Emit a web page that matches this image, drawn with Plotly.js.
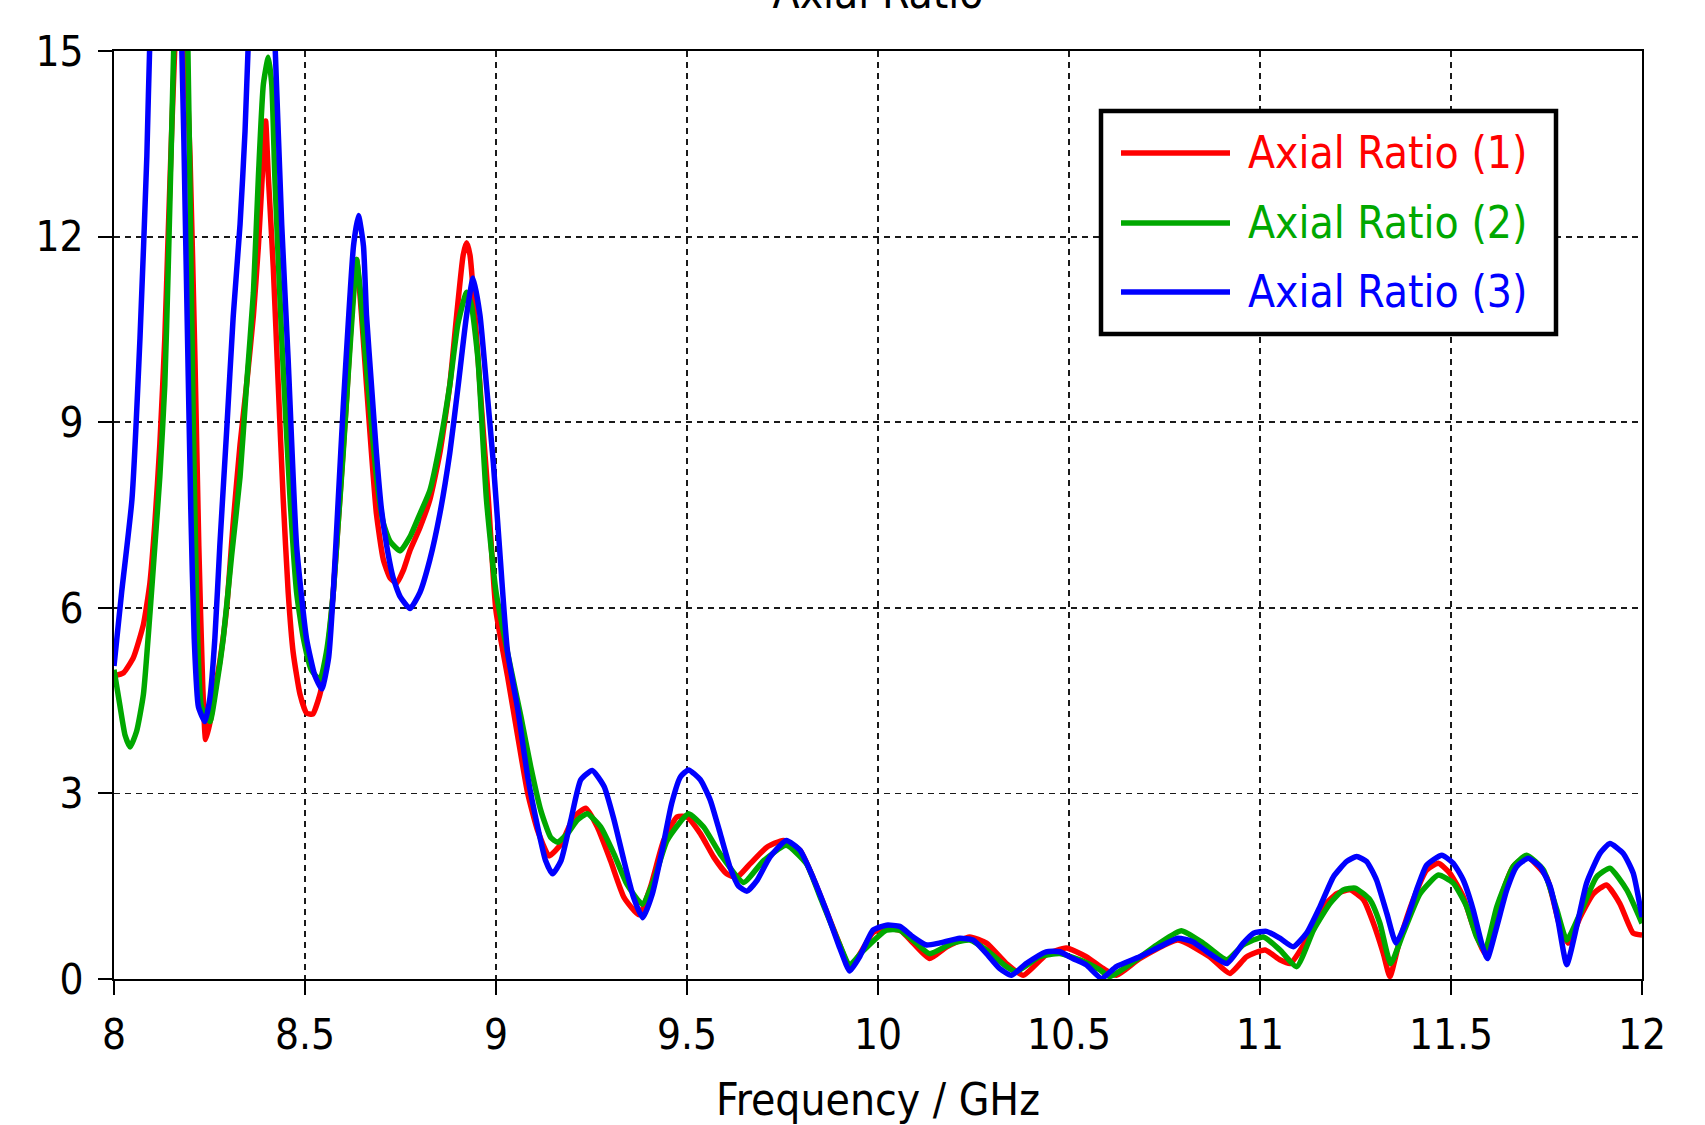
<!DOCTYPE html>
<html>
<head>
<meta charset="utf-8">
<script src="https://cdn.plot.ly/plotly-3.0.1.min.js"></script>
<style>html,body{margin:0;padding:0;background:#fff;}#chart{width:1705px;height:1125px;}</style>
</head>
<body>
<div id="chart"></div>
<script>
// ---- data ----
const seriesNames = ['Axial Ratio (1)', 'Axial Ratio (2)', 'Axial Ratio (3)'];
const seriesColors = ['#ff0000', '#00a800', '#0000ff'];
const xTickVals = [8, 8.5, 9, 9.5, 10, 10.5, 11, 11.5, 12];
const xTickText = ['8', '8.5', '9', '9.5', '10', '10.5', '11', '11.5', '12'];
const yTickVals = [0, 3, 6, 9, 12, 15];
const yTickText = ['0', '3', '6', '9', '12', '15'];
const chartTitle = 'Axial Ratio';
const xTitle = 'Frequency / GHz';

const freq1 = [8.0,8.025,8.051,8.077,8.094,8.107,8.12,8.133,8.142,8.151,8.16,8.172,8.186,8.199,8.212,8.222,8.232,8.24,8.253,8.265,8.277,8.295,8.312,8.33,8.347,8.365,8.378,8.391,8.397,8.404,8.417,8.43,8.443,8.456,8.469,8.487,8.504,8.52,8.539,8.556,8.574,8.591,8.609,8.622,8.635,8.648,8.661,8.674,8.687,8.705,8.723,8.74,8.757,8.775,8.801,8.827,8.853,8.879,8.897,8.914,8.923,8.932,8.945,8.962,8.98,9.0,9.03,9.057,9.083,9.109,9.139,9.17,9.204,9.235,9.265,9.3,9.335,9.374,9.404,9.439,9.474,9.5,9.535,9.57,9.604,9.63,9.665,9.709,9.752,9.796,9.83,9.865,9.9,9.926,9.952,9.987,10.022,10.06,10.092,10.135,10.18,10.24,10.284,10.336,10.38,10.44,10.493,10.545,10.589,10.624,10.685,10.785,10.868,10.921,10.965,11.013,11.052,11.079,11.122,11.166,11.201,11.236,11.271,11.297,11.323,11.34,11.366,11.401,11.436,11.467,11.497,11.532,11.558,11.589,11.62,11.663,11.698,11.75,11.785,11.807,11.838,11.873,11.907,11.942,11.977,12.0];
const ar1 = [4.9,4.95,5.2,5.73,6.4,7.37,8.64,10.36,12.07,13.7,15.2,17,15.3,13.3,10.0,7.0,4.8,3.87,4.2,4.7,5.13,6.0,7.37,8.64,9.6,10.73,11.85,13.3,13.87,12.97,11.5,9.6,7.75,6.25,5.28,4.6,4.3,4.28,4.6,5.13,6.25,7.75,9.39,10.73,11.63,10.73,9.6,8.5,7.52,6.78,6.48,6.4,6.6,6.93,7.3,7.75,8.5,9.6,10.73,11.7,11.9,11.7,10.73,9.24,7.75,5.95,4.9,3.92,3.0,2.4,1.99,2.18,2.62,2.76,2.46,1.91,1.32,1.04,1.48,2.24,2.62,2.62,2.35,1.97,1.70,1.64,1.86,2.13,2.24,2.08,1.64,1.1,0.55,0.18,0.4,0.75,0.82,0.78,0.58,0.33,0.52,0.68,0.58,0.25,0.06,0.39,0.5,0.36,0.17,0.06,0.33,0.63,0.36,0.09,0.36,0.47,0.31,0.25,0.63,1.17,1.38,1.44,1.28,0.9,0.41,0.04,0.63,1.28,1.76,1.87,1.71,1.33,0.85,0.41,1.12,1.82,1.98,1.65,0.85,0.58,1.0,1.38,1.52,1.22,0.74,0.71];

const freq2 = [8.0,8.016,8.029,8.042,8.059,8.077,8.094,8.107,8.12,8.133,8.142,8.151,8.157,8.175,8.193,8.2,8.207,8.216,8.229,8.251,8.269,8.286,8.308,8.33,8.347,8.365,8.378,8.391,8.404,8.413,8.421,8.439,8.461,8.478,8.496,8.517,8.539,8.556,8.574,8.587,8.6,8.613,8.627,8.635,8.644,8.657,8.67,8.687,8.705,8.723,8.749,8.775,8.801,8.827,8.853,8.879,8.9,8.923,8.936,8.953,8.975,9.0,9.03,9.065,9.091,9.117,9.143,9.161,9.187,9.213,9.239,9.274,9.309,9.343,9.383,9.413,9.448,9.504,9.543,9.587,9.648,9.7,9.76,9.813,9.85,9.9,9.926,9.96,10.022,10.057,10.1,10.135,10.195,10.24,10.284,10.336,10.362,10.423,10.476,10.528,10.58,10.607,10.676,10.737,10.794,10.851,10.913,10.956,11.009,11.052,11.096,11.14,11.183,11.218,11.249,11.288,11.314,11.342,11.375,11.419,11.467,11.506,11.541,11.567,11.589,11.62,11.663,11.698,11.742,11.777,11.803,11.838,11.881,11.916,11.96,12.0];
const ar2 = [5.0,4.4,3.94,3.75,4.0,4.6,5.9,7.0,8.12,9.6,11.5,13.7,15.2,18,15.2,12.2,9.24,6.25,4.4,4.16,4.76,5.5,6.85,8.12,9.6,11.1,12.97,14.46,14.9,14.46,12.97,10.36,7.75,6.25,5.5,4.99,4.84,5.28,6.25,7.37,8.5,9.76,11.03,11.63,11.18,10.15,9.24,8.12,7.37,7.07,6.92,7.15,7.52,7.9,8.64,9.6,10.58,11.1,10.88,10.0,7.75,6.26,5.28,4.25,3.43,2.73,2.29,2.21,2.35,2.57,2.67,2.46,2.02,1.53,1.21,1.59,2.24,2.67,2.46,2.02,1.56,1.91,2.16,1.86,1.3,0.55,0.23,0.45,0.79,0.79,0.58,0.41,0.58,0.63,0.47,0.2,0.12,0.36,0.41,0.31,0.15,0.04,0.31,0.58,0.78,0.58,0.31,0.55,0.68,0.47,0.2,0.79,1.22,1.44,1.47,1.28,0.9,0.25,0.74,1.38,1.68,1.55,1.17,0.68,0.47,1.17,1.82,2.0,1.76,1.12,0.63,1.06,1.65,1.79,1.44,0.9];

const freq3 = [8.0,8.02,8.047,8.068,8.086,8.094,8.135,8.177,8.188,8.201,8.21,8.221,8.238,8.251,8.264,8.277,8.295,8.312,8.33,8.343,8.352,8.39,8.421,8.439,8.456,8.478,8.504,8.526,8.544,8.562,8.574,8.587,8.6,8.613,8.627,8.64,8.653,8.661,8.674,8.687,8.7,8.714,8.731,8.749,8.775,8.801,8.827,8.853,8.879,8.9,8.923,8.94,8.958,8.975,8.993,9.01,9.03,9.057,9.083,9.109,9.13,9.148,9.17,9.196,9.222,9.252,9.283,9.309,9.335,9.36,9.384,9.409,9.435,9.46,9.483,9.504,9.535,9.561,9.587,9.613,9.635,9.657,9.683,9.717,9.76,9.796,9.83,9.865,9.9,9.926,9.952,9.987,10.022,10.057,10.092,10.127,10.16,10.214,10.249,10.284,10.318,10.349,10.388,10.44,10.476,10.51,10.545,10.585,10.624,10.685,10.737,10.785,10.825,10.868,10.913,10.956,10.983,11.017,11.052,11.087,11.122,11.157,11.192,11.227,11.253,11.279,11.305,11.332,11.356,11.384,11.41,11.436,11.476,11.506,11.532,11.558,11.58,11.595,11.62,11.646,11.672,11.702,11.733,11.76,11.78,11.803,11.829,11.855,11.89,11.916,11.951,11.977,12.0];
const ar3 = [5.06,6.25,7.75,10.36,13.3,15.2,21,15.2,11.85,7.6,5.5,4.4,4.16,4.54,5.5,7.0,8.87,10.7,12.2,13.7,15.2,20,15.2,12.2,10.0,7.0,5.5,4.9,4.69,5.2,6.25,7.75,9.24,10.58,11.85,12.34,11.85,10.73,9.6,8.5,7.6,7.0,6.48,6.18,5.99,6.25,6.78,7.52,8.5,9.54,10.73,11.33,10.73,9.6,8.34,6.9,5.3,4.36,3.27,2.46,1.91,1.70,1.91,2.57,3.22,3.37,3.11,2.57,1.91,1.32,0.99,1.37,2.08,2.84,3.27,3.38,3.22,2.89,2.35,1.80,1.5,1.42,1.59,1.97,2.24,2.08,1.64,1.1,0.5,0.13,0.36,0.79,0.87,0.85,0.68,0.55,0.58,0.66,0.63,0.41,0.17,0.06,0.25,0.44,0.44,0.33,0.23,0.01,0.2,0.36,0.52,0.66,0.6,0.41,0.25,0.58,0.74,0.77,0.66,0.52,0.74,1.17,1.65,1.9,1.98,1.9,1.6,1.06,0.58,0.95,1.44,1.84,2.0,1.87,1.6,1.12,0.58,0.33,0.85,1.44,1.82,1.95,1.82,1.49,0.95,0.23,0.85,1.55,2.03,2.19,2.03,1.71,1.0];

const xs = [freq1, freq2, freq3];
const ys = [ar1, ar2, ar3];

// ---- chart ----
const FONT = '"DejaVu Sans Condensed", "Liberation Sans", Tahoma, sans-serif';
const traces = seriesNames.map((name, i) => ({
  type: 'scatter', mode: 'lines', name: name,
  x: xs[i], y: ys[i],
  line: {color: seriesColors[i], width: 5.5, shape: 'spline', smoothing: 0.5},
  showlegend: false
}));

// custom legend box (positions in paper coordinates)
const W = 1705, H = 1125, ML = 114, MR = 63, MT = 51, MB = 146;
const PW = W - ML - MR, PH = H - MT - MB;
const px = v => (v - ML) / PW;
const py = v => (H - MB - v) / PH;
const legRowY = [153, 223, 292];
const shapes = [{
  type: 'rect', xref: 'paper', yref: 'paper',
  x0: px(1101), x1: px(1556), y0: py(334), y1: py(111),
  line: {color: '#000', width: 4.5}, fillcolor: '#ffffff', layer: 'above'
}];
const annotations = [];
seriesNames.forEach((name, i) => {
  shapes.push({type: 'line', xref: 'paper', yref: 'paper',
    x0: px(1121), x1: px(1230), y0: py(legRowY[i]), y1: py(legRowY[i]),
    line: {color: seriesColors[i], width: 5.5}, layer: 'above'});
  annotations.push({xref: 'paper', yref: 'paper', x: px(1246), y: py(legRowY[i] - 1),
    xanchor: 'left', yanchor: 'middle', showarrow: false, text: name,
    font: {family: FONT, size: 44, color: seriesColors[i]}});
});

const gridStyle = {showgrid: true, gridcolor: '#1a1a1a', gridwidth: 1.8, griddash: '6px,5px'};
const layout = {
  width: W, height: H,
  margin: {l: ML, r: MR, t: MT, b: MB},
  paper_bgcolor: '#fff', plot_bgcolor: '#fff',
  font: {family: FONT, size: 42, color: '#000'},
  title: {text: chartTitle, font: {family: FONT, size: 44, color: '#000'},
          x: 0.5, xref: 'paper', xanchor: 'center', y: 1 - 8 / H, yref: 'container', yanchor: 'bottom'},
  xaxis: Object.assign({
    range: [8, 12], tickvals: xTickVals, ticktext: xTickText,
    showline: true, linecolor: '#000', linewidth: 2, mirror: true,
    ticks: 'outside', ticklen: 14, tickwidth: 2, tickcolor: '#000',
    ticklabelstandoff: 4, zeroline: false,
    tickfont: {family: FONT, size: 42, color: '#000'},
    title: {text: xTitle, font: {family: FONT, size: 44, color: '#000'}, standoff: 42}
  }, gridStyle),
  yaxis: Object.assign({
    range: [0, 15], tickvals: yTickVals, ticktext: yTickText,
    showline: true, linecolor: '#000', linewidth: 2, mirror: true,
    ticks: 'outside', ticklen: 14, tickwidth: 2, tickcolor: '#000',
    ticklabelstandoff: 6, zeroline: false,
    tickfont: {family: FONT, size: 42, color: '#000'}
  }, gridStyle),
  shapes: shapes,
  annotations: annotations
};

Plotly.newPlot('chart', traces, layout, {staticPlot: true, displayModeBar: false});
</script>
</body>
</html>
